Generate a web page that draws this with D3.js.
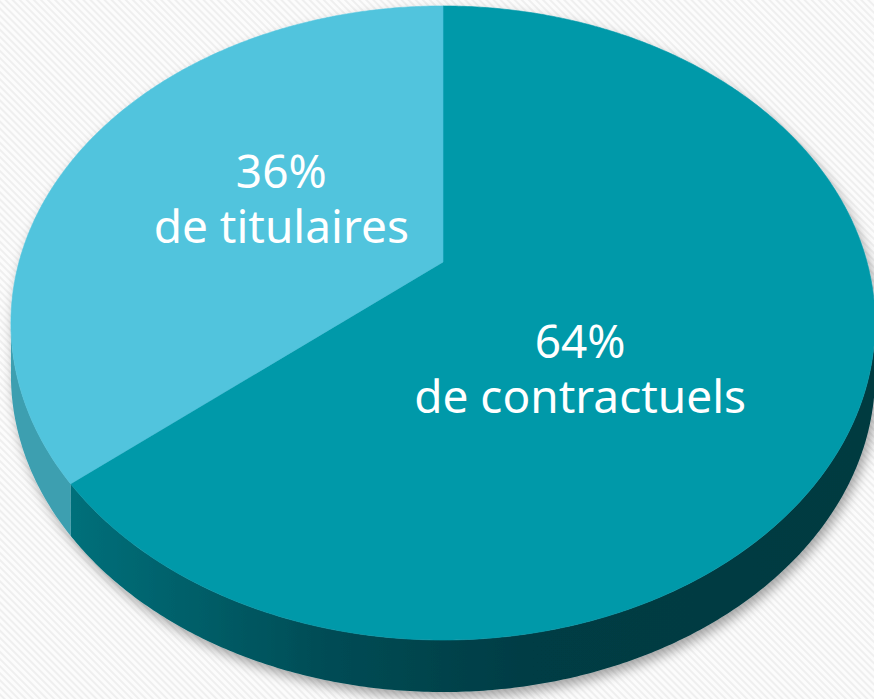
<!DOCTYPE html>
<html>
<head>
<meta charset="utf-8">
<script src="https://cdn.jsdelivr.net/npm/d3@7"></script>
<style>
  body { margin: 0; background: #fff; }
  svg { display: block; }
</style>
</head>
<body>
<div id="chart"></div>
<script>
// data
var categories = ["contractuels", "titulaires"];
var shares = [64, 36];
var pctLabels = ["64%", "36%"];
var nameLabels = ["de contractuels", "de titulaires"];

var width = 874, height = 699;

// perspective of the disc: k is the depth factor
var k = 0.1924, depth = 52;
var xScale = d3.scaleLinear().domain([-1, 1]).range([443 - 424, 443 + 424]);
var yScale = d3.scaleLinear().domain([-1, 1]).range([262 - 305.3, 262 + 305.3]);

function proj(u, v) {
    var w = 1 - k * v;
    return [xScale(u / w), yScale(v / w)];
}
function edge(a, r) {
    r = r === undefined ? 1 : r;
    return proj(r * Math.sin(a), -r * Math.cos(a));
}

var topColor = d3.scaleOrdinal().domain(categories).range(["#0099a9", "#51c4dd"]);
var sideColor = d3.scaleOrdinal().domain(categories).range(["url(#sideGrad)", "#3c9fb0"]);

var svg = d3.select("#chart").append("svg")
    .attr("width", width)
    .attr("height", height);

var defs = svg.append("defs");

var pat = defs.append("pattern")
    .attr("id", "stripes")
    .attr("width", 5).attr("height", 5)
    .attr("patternUnits", "userSpaceOnUse")
    .attr("patternTransform", "rotate(45)");
pat.append("rect").attr("width", 5).attr("height", 5).attr("fill", "#fcfcfc");
pat.append("rect").attr("width", 5).attr("height", 2).attr("fill", "#efefef");

var grad = defs.append("linearGradient")
    .attr("id", "sideGrad")
    .attr("gradientUnits", "userSpaceOnUse")
    .attr("x1", 40).attr("y1", 0).attr("x2", 860).attr("y2", 0);
grad.append("stop").attr("offset", "0%").attr("stop-color", "#00747f");
grad.append("stop").attr("offset", "35%").attr("stop-color", "#004c55");
grad.append("stop").attr("offset", "60%").attr("stop-color", "#003c44");
grad.append("stop").attr("offset", "100%").attr("stop-color", "#003a41");

var shadow = defs.append("filter")
    .attr("id", "shadow")
    .attr("x", "-10%").attr("y", "-10%")
    .attr("width", "130%").attr("height", "130%");
shadow.append("feDropShadow")
    .attr("dx", 3).attr("dy", 6)
    .attr("stdDeviation", 6)
    .attr("flood-color", "#000")
    .attr("flood-opacity", 0.35);

svg.append("rect")
    .attr("width", width).attr("height", height)
    .attr("fill", "url(#stripes)");

var pie = d3.pie().sort(null).value(function(d) { return d; });
var arcs = pie(shares);

var line = d3.line();
var step = Math.PI / 360;

var g = svg.append("g").attr("filter", "url(#shadow)");

// visible front wall goes between the two silhouette points
var front0 = Math.acos(-k), front1 = 2 * Math.PI - Math.acos(-k);

arcs.forEach(function(d, i) {
    var s = Math.max(d.startAngle, front0),
        e = Math.min(d.endAngle, front1);
    if (s >= e) return;
    var angles = d3.range(s, e, step).concat([e]);
    var upper = angles.map(function(a) { return edge(a); });
    var lower = angles.slice().reverse().map(function(a) {
        var p = edge(a);
        return [p[0], p[1] + depth];
    });
    g.append("path")
        .attr("class", "side")
        .attr("d", line(upper.concat(lower)) + "Z")
        .attr("fill", sideColor(categories[i]));
});

arcs.forEach(function(d, i) {
    var angles = d3.range(d.startAngle, d.endAngle, step).concat([d.endAngle]);
    var pts = [proj(0, 0)].concat(angles.map(function(a) { return edge(a); }));
    g.append("path")
        .attr("class", "top")
        .attr("d", line(pts) + "Z")
        .attr("fill", topColor(categories[i]))
        .attr("stroke", topColor(categories[i]))
        .attr("stroke-width", 0.6);
});

// label spots, in disc units (u across, v towards viewer)
var spots = { contractuels: [0.305, 0.297], titulaires: [-0.40, -0.254] };

categories.forEach(function(c, i) {
    var p = proj(spots[c][0], spots[c][1]);
    var t = svg.append("text")
        .attr("text-anchor", "middle")
        .attr("font-family", "'Noto Sans', sans-serif")
        .attr("font-size", "46px")
        .attr("fill", "#fff");
    t.append("tspan").attr("x", p[0]).attr("y", p[1]).text(pctLabels[i]);
    t.append("tspan").attr("x", p[0]).attr("y", p[1] + 55).text(nameLabels[i]);
});
</script>
</body>
</html>
